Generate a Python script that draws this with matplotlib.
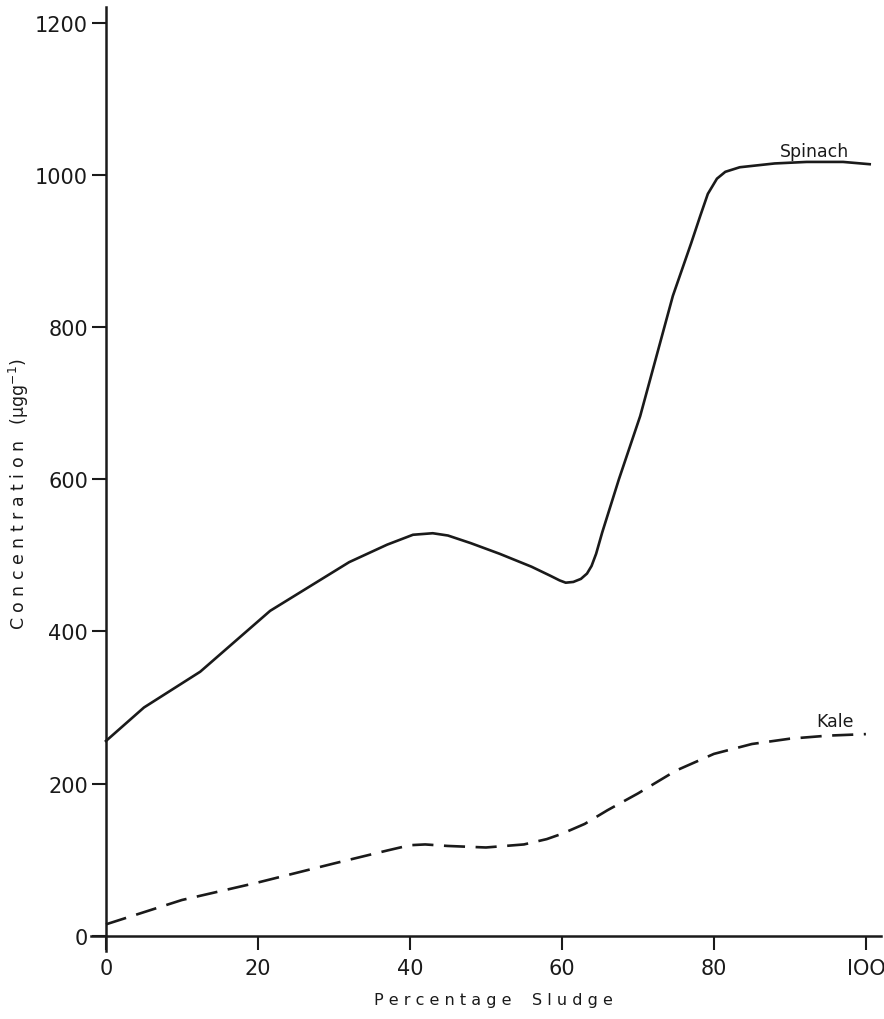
import matplotlib.pyplot as plt

# values
spinach_x = [0, 5, 12.4, 21.6, 32, 37, 40.4, 43, 45, 48, 51.8, 56, 58.5, 59.7, 60.5, 61.5, 62.5, 63.3, 63.9, 64.5, 65.3,
             67.5, 70.3, 74.6, 77, 78.2, 79.2, 80.4, 81.5, 83.4, 88, 92.2, 97, 100.5]
spinach_y = [256, 300, 347, 427, 491, 514, 527, 529, 526, 516, 502, 485, 473, 467, 464, 465, 469, 476, 486, 502, 530,
             600, 683, 841, 910, 946, 975, 995, 1004, 1010, 1015, 1017, 1017, 1014]

kale_x = [0, 10, 20, 30, 37, 40, 42, 45, 50, 55, 58, 60, 63, 66, 70, 75, 80, 85, 90, 95, 100]
kale_y = [15, 47, 70, 95, 112, 119, 120, 118, 116, 120, 127, 134, 147, 165, 187, 217, 239, 252, 259, 263, 265]

x_ticks = [0, 20, 40, 60, 80, 100]
x_labels = ['0', '20', '40', '60', '80', 'IOO']
y_ticks = [0, 200, 400, 600, 800, 1000, 1200]

fig = plt.figure(figsize=(8.84, 10.2), dpi=100)
ax = fig.add_axes([0.1027, 0.0667, 0.894, 0.925])

ax.plot(spinach_x, spinach_y, color='#1a1a1a', lw=1.9, solid_joinstyle='round')
ax.plot(kale_x, kale_y, color='#1a1a1a', lw=1.9, dashes=(8, 4))

ax.set_xlim(-2, 102)
ax.set_ylim(-20, 1220)
ax.spines['left'].set_position(('data', 0))
ax.spines['bottom'].set_position(('data', 0))
ax.spines['right'].set_visible(False)
ax.spines['top'].set_visible(False)
for s in ['left', 'bottom']:
    ax.spines[s].set_linewidth(1.8)
    ax.spines[s].set_color('#1a1a1a')

ax.set_xticks(x_ticks)
ax.set_xticklabels(x_labels)
ax.set_yticks(y_ticks)
ax.tick_params(axis='both', length=10, width=1.5, color='#1a1a1a', labelsize=15, labelcolor='#1a1a1a')
ax.tick_params(axis='x', pad=6)
ax.tick_params(axis='y', pad=3)

ax.text(93.3, 1025, 'Spinach', fontsize=12.5, color='#1a1a1a', ha='center')
ax.text(95.9, 276, 'Kale', fontsize=12.5, color='#1a1a1a', ha='center')

fig.text(0.558, 0.0196, 'P e r c e n t a g e    S l u d g e', fontsize=11.5, color='#1a1a1a', ha='center', va='center')
fig.text(0.021, 0.515, 'C o n c e n t r a t i o n   (\u03bcgg$^{-1}$)', fontsize=12.5, color='#1a1a1a',
         ha='center', va='center', rotation=90)

fig.savefig('out.png')
